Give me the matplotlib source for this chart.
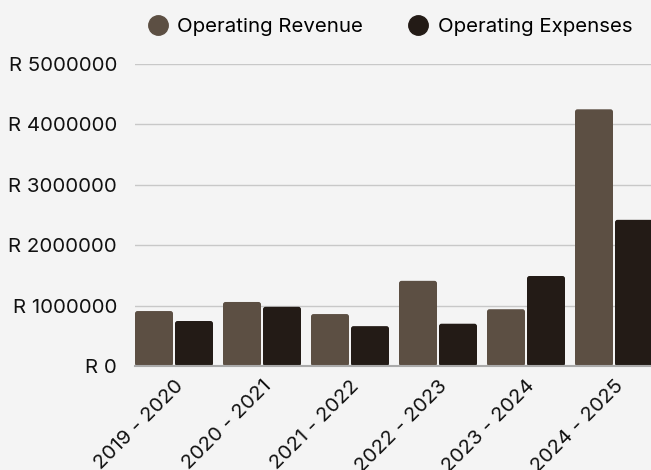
import matplotlib
matplotlib.use("Agg")
import matplotlib.pyplot as plt
from matplotlib.lines import Line2D
from matplotlib.patches import FancyBboxPatch
import numpy as np

categories = ["2019 - 2020", "2020 - 2021", "2021 - 2022", "2022 - 2023", "2023 - 2024", "2024 - 2025"]
revenue = [910000, 1060000, 860000, 1410000, 940000, 4250000]
expenses = [745000, 980000, 660000, 700000, 1490000, 2420000]
yticks = [0, 1000000, 2000000, 3000000, 4000000, 5000000]
series_names = ["Operating Revenue", "Operating Expenses"]
colors = ["#5c4f43", "#231b16"]

plt.rcParams['font.family'] = ['Inter', 'DejaVu Sans']
bg = "#f4f4f4"
fs = 14.7
W, H = 651, 470
left_px, right_px, y0_px, ytop_px = 135, 651, 366, 64
fig = plt.figure(figsize=(W/100, H/100), dpi=100, facecolor=bg)
ax = fig.add_axes([left_px/W, (H - y0_px)/H, (right_px - left_px)/W, (y0_px - ytop_px)/H], facecolor=bg)

spacing_px = 88.0
x = np.arange(len(categories))
w = 38 / spacing_px
off = 20 / spacing_px
xlim0 = -(174 - left_px) / spacing_px
ax.set_xlim(xlim0, xlim0 + (right_px - left_px) / spacing_px)
ax.set_ylim(0, 5000000)

# rounded bars
px_x = 1 / spacing_px
px_y = 5000000 / (y0_px - ytop_px)
r = 2.5
for vals, dx, c in [(revenue, -off, colors[0]), (expenses, off, colors[1])]:
    bars = ax.bar(x + dx, vals, width=w, color=c, zorder=3)
    for b in bars:
        b.set_visible(False)
        p = FancyBboxPatch((b.get_x(), b.get_y()), b.get_width(), b.get_height(),
                           boxstyle=f"round,pad=0,rounding_size={r * px_x}",
                           mutation_aspect=px_y / px_x, facecolor=c, edgecolor="none", zorder=3)
        ax.add_patch(p)

ax.set_yticks(yticks)
ax.set_yticklabels([f"R {v}" for v in yticks], fontsize=fs, color="#111111")
ax.set_xticks(x)
ax.set_xticklabels(categories, rotation=45, ha="right", rotation_mode="anchor", fontsize=fs, color="#111111")
ax.tick_params(axis="both", length=0)
ax.tick_params(axis="y", pad=13)
ax.tick_params(axis="x", pad=8)
ax.grid(axis="y", color="#c8c8c8", linewidth=1, zorder=0)
for s in ["top", "right", "left"]:
    ax.spines[s].set_visible(False)
ax.spines["bottom"].set_color("#aaaaaa")
ax.spines["bottom"].set_linewidth(1.5)
ax.spines["bottom"].set_zorder(4)

handles = [Line2D([], [], marker='o', linestyle='', markersize=14, color=c) for c in colors]
fig.legend(handles, series_names, loc="center",
           bbox_to_anchor=(390/W, 1 - 27/H), ncol=2, frameon=False, fontsize=fs,
           handlelength=1.0, columnspacing=2.2, handletextpad=0.45)

fig.savefig("out.png", dpi=100, facecolor=bg)
